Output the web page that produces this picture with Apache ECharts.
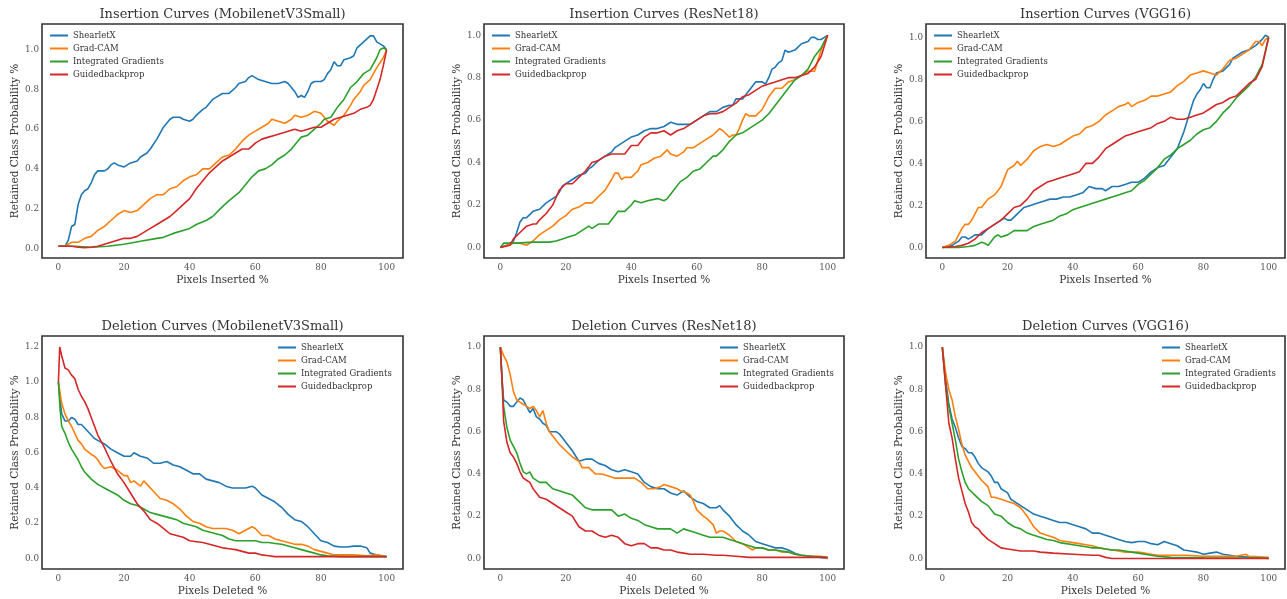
<!DOCTYPE html>
<html><head><meta charset="utf-8">
<script src="https://cdn.jsdelivr.net/npm/echarts@6/dist/echarts.min.js"></script>
<style>html,body{margin:0;padding:0;background:#fff}#c{width:1287px;height:599px}</style>
</head><body><div id="c"></div>
<script>
const methods = ['ShearletX', 'Grad-CAM', 'Integrated Gradients', 'Guidedbackprop'];
const colors = ['#1f77b4', '#ff7f0e', '#2ca02c', '#d62728'];
const titles = ['Insertion Curves (MobilenetV3Small)', 'Insertion Curves (ResNet18)', 'Insertion Curves (VGG16)',
  'Deletion Curves (MobilenetV3Small)', 'Deletion Curves (ResNet18)', 'Deletion Curves (VGG16)'];
const xNames = ['Pixels Inserted %', 'Pixels Inserted %', 'Pixels Inserted %', 'Pixels Deleted %', 'Pixels Deleted %', 'Pixels Deleted %'];
const yName = 'Retained Class Probability %';
const xTicks = [0, 20, 40, 60, 80, 100];
const yTicksInsMob = [0, 0.2, 0.4, 0.6, 0.8, 1.0];
const yTicksDelMob = [0, 0.2, 0.4, 0.6, 0.8, 1.0, 1.2];

// ---- Insertion, MobilenetV3Small ----
const insMobShearletX = [[0,0.01],[2,0.01],[3,0.04],[4,0.11],[5,0.12],[6,0.22],[7,0.27],[8,0.29],[9,0.30],[10,0.33],[11,0.37],[12,0.39],[14,0.39],[15,0.40],[16,0.42],[17,0.43],[18,0.42],[20,0.41],[22,0.43],[24,0.44],[25,0.46],[27,0.48],[28,0.50],[30,0.55],[32,0.61],[34,0.65],[35,0.66],[37,0.66],[38,0.65],[40,0.64],[41,0.65],[42,0.67],[44,0.70],[45,0.71],[47,0.75],[48,0.76],[50,0.78],[52,0.78],[54,0.81],[55,0.83],[57,0.84],[58,0.86],[59,0.87],[61,0.85],[63,0.84],[65,0.83],[67,0.83],[69,0.84],[70,0.83],[71,0.81],[72,0.79],[73,0.76],[74,0.77],[75,0.76],[76,0.79],[77,0.83],[78,0.84],[80,0.84],[81,0.85],[82,0.88],[83,0.90],[84,0.94],[85,0.92],[86,0.92],[87,0.95],[89,0.96],[90,0.97],[91,1.01],[93,1.04],[95,1.07],[96,1.07],[97,1.04],[98,1.03],[99,1.02],[100,1.00]];
const insMobGradCAM = [[0,0.01],[2,0.01],[3,0.02],[4,0.03],[6,0.03],[8,0.05],[10,0.06],[12,0.09],[14,0.11],[16,0.14],[18,0.17],[20,0.19],[22,0.18],[24,0.19],[26,0.22],[28,0.25],[30,0.27],[32,0.27],[34,0.30],[36,0.31],[38,0.34],[40,0.36],[42,0.37],[44,0.40],[46,0.40],[48,0.43],[50,0.46],[52,0.47],[54,0.50],[56,0.54],[58,0.57],[60,0.59],[62,0.61],[64,0.63],[65,0.65],[67,0.64],[69,0.63],[71,0.65],[72,0.67],[74,0.66],[76,0.67],[78,0.69],[80,0.68],[81,0.66],[82,0.64],[83,0.63],[84,0.62],[85,0.64],[87,0.67],[89,0.72],[90,0.75],[91,0.77],[92,0.79],[93,0.82],[95,0.85],[97,0.91],[99,0.96],[100,1.00]];
const insMobIG = [[0,0.01],[5,0.01],[10,0.005],[15,0.01],[20,0.02],[25,0.035],[30,0.05],[32,0.055],[35,0.075],[38,0.09],[40,0.10],[42,0.12],[45,0.14],[47,0.16],[50,0.21],[52,0.24],[55,0.28],[57,0.32],[59,0.36],[61,0.39],[63,0.40],[65,0.42],[67,0.45],[69,0.47],[71,0.50],[73,0.54],[74,0.56],[76,0.57],[78,0.60],[80,0.63],[81,0.65],[83,0.66],[85,0.71],[87,0.75],[89,0.81],[91,0.84],[93,0.88],[95,0.90],[97,0.96],[98,1.00],[99,1.01],[100,1.00]];
const insMobGBP = [[0,0.01],[4,0.01],[6,0.005],[8,0.003],[10,0.005],[12,0.01],[14,0.02],[16,0.03],[18,0.04],[20,0.05],[22,0.05],[24,0.06],[26,0.08],[28,0.10],[30,0.12],[32,0.14],[34,0.16],[36,0.19],[38,0.22],[40,0.25],[42,0.30],[44,0.34],[46,0.38],[48,0.41],[50,0.44],[52,0.46],[54,0.48],[56,0.50],[58,0.50],[60,0.53],[62,0.55],[64,0.56],[66,0.57],[68,0.58],[70,0.59],[72,0.60],[74,0.59],[76,0.60],[78,0.61],[80,0.61],[82,0.63],[84,0.65],[86,0.66],[88,0.67],[90,0.68],[92,0.70],[94,0.71],[95,0.72],[96,0.75],[97,0.80],[98,0.85],[99,0.92],[100,1.00]];

// ---- Insertion, ResNet18 ----
const insResShearletX = [[0,0.0],[2,0.01],[4,0.03],[5,0.07],[6,0.12],[7,0.14],[8,0.14],[10,0.17],[12,0.18],[14,0.21],[16,0.23],[17,0.24],[18,0.26],[19,0.29],[20,0.30],[22,0.32],[24,0.34],[26,0.35],[27,0.37],[28,0.38],[30,0.41],[32,0.43],[34,0.45],[35,0.47],[37,0.49],[39,0.51],[40,0.52],[42,0.53],[44,0.55],[46,0.56],[48,0.56],[50,0.57],[52,0.59],[54,0.58],[56,0.58],[58,0.58],[60,0.60],[62,0.62],[64,0.64],[66,0.64],[68,0.66],[70,0.67],[71,0.67],[72,0.70],[74,0.70],[75,0.72],[77,0.76],[78,0.78],[80,0.78],[81,0.77],[82,0.80],[83,0.84],[84,0.85],[85,0.87],[86,0.88],[87,0.93],[88,0.92],[90,0.93],[92,0.96],[94,0.97],[95,0.99],[96,0.99],[97,0.98],[98,0.98],[99,0.99],[100,1.00]];
const insResGradCAM = [[0,0.0],[2,0.01],[4,0.02],[6,0.02],[8,0.01],[10,0.03],[12,0.06],[14,0.08],[16,0.10],[18,0.13],[20,0.15],[22,0.18],[24,0.19],[26,0.21],[28,0.21],[30,0.24],[32,0.27],[34,0.32],[35,0.35],[36,0.35],[37,0.32],[38,0.33],[40,0.33],[42,0.36],[43,0.39],[45,0.40],[47,0.42],[49,0.43],[51,0.46],[52,0.44],[54,0.43],[56,0.45],[57,0.47],[59,0.47],[61,0.49],[63,0.51],[65,0.53],[67,0.56],[68,0.55],[70,0.52],[71,0.53],[72,0.53],[73,0.56],[74,0.60],[75,0.63],[76,0.62],[78,0.62],[80,0.65],[82,0.71],[84,0.75],[86,0.75],[88,0.78],[90,0.79],[92,0.81],[94,0.83],[96,0.83],[97,0.88],[98,0.93],[99,0.97],[100,1.00]];
const insResIG = [[0,0.0],[1,0.02],[5,0.02],[10,0.025],[12,0.025],[15,0.025],[17,0.03],[19,0.04],[21,0.05],[23,0.06],[25,0.08],[27,0.10],[28,0.09],[30,0.11],[33,0.11],[34,0.13],[36,0.17],[38,0.17],[40,0.20],[41,0.22],[43,0.21],[45,0.22],[48,0.23],[50,0.22],[51,0.23],[53,0.27],[55,0.31],[57,0.33],[59,0.36],[61,0.37],[63,0.40],[65,0.43],[66,0.43],[68,0.46],[70,0.50],[72,0.53],[74,0.54],[76,0.56],[78,0.58],[80,0.60],[82,0.63],[84,0.67],[86,0.71],[88,0.75],[90,0.79],[92,0.81],[94,0.84],[96,0.90],[98,0.94],[100,1.00]];
const insResGBP = [[0,0.0],[3,0.01],[4,0.04],[6,0.07],[8,0.10],[10,0.11],[11,0.11],[12,0.13],[14,0.16],[16,0.20],[18,0.27],[20,0.30],[22,0.30],[24,0.33],[26,0.36],[28,0.40],[30,0.41],[32,0.43],[34,0.44],[36,0.44],[38,0.44],[40,0.48],[42,0.48],[44,0.52],[46,0.54],[48,0.54],[50,0.55],[52,0.53],[54,0.55],[56,0.56],[58,0.58],[60,0.60],[62,0.62],[64,0.63],[66,0.63],[68,0.64],[70,0.66],[72,0.68],[74,0.71],[76,0.72],[78,0.74],[80,0.76],[82,0.77],[84,0.78],[86,0.79],[88,0.80],[90,0.80],[92,0.81],[94,0.82],[96,0.85],[98,0.90],[100,1.00]];

// ---- Insertion, VGG16 ----
const insVggShearletX = [[0,0.0],[3,0.01],[5,0.03],[6,0.05],[7,0.05],[8,0.04],[10,0.06],[12,0.06],[14,0.09],[16,0.11],[18,0.13],[19,0.14],[20,0.13],[21,0.13],[23,0.16],[25,0.19],[27,0.20],[29,0.21],[31,0.22],[33,0.23],[35,0.23],[37,0.24],[39,0.24],[41,0.25],[43,0.26],[45,0.29],[47,0.28],[49,0.28],[50,0.27],[52,0.29],[54,0.29],[56,0.30],[58,0.31],[60,0.31],[62,0.33],[64,0.36],[66,0.38],[68,0.39],[70,0.43],[72,0.47],[73,0.51],[74,0.55],[75,0.60],[76,0.65],[77,0.70],[78,0.73],[79,0.75],[80,0.78],[81,0.76],[82,0.76],[83,0.80],[84,0.83],[86,0.84],[88,0.87],[89,0.90],[90,0.91],[92,0.93],[94,0.94],[96,0.96],[98,0.99],[99,1.01],[100,1.00]];
const insVggGradCAM = [[0,0.0],[2,0.01],[4,0.03],[5,0.06],[6,0.09],[7,0.11],[8,0.11],[9,0.13],[10,0.16],[11,0.19],[12,0.19],[13,0.21],[14,0.23],[16,0.25],[18,0.29],[19,0.33],[20,0.37],[22,0.39],[23,0.41],[24,0.39],[26,0.42],[28,0.46],[30,0.48],[32,0.49],[34,0.48],[36,0.49],[38,0.51],[40,0.53],[42,0.54],[44,0.57],[46,0.58],[48,0.60],[50,0.63],[52,0.65],[54,0.67],[56,0.68],[57,0.69],[58,0.67],[60,0.69],[62,0.70],[64,0.72],[66,0.72],[68,0.73],[70,0.74],[72,0.77],[74,0.79],[76,0.82],[78,0.83],[80,0.84],[82,0.83],[84,0.82],[86,0.85],[88,0.89],[90,0.90],[92,0.92],[94,0.94],[96,0.98],[97,0.98],[98,0.96],[99,0.99],[100,1.00]];
const insVggIG = [[0,0.0],[5,0.0],[8,0.005],[10,0.01],[12,0.025],[13,0.02],[14,0.01],[15,0.03],[16,0.05],[17,0.06],[18,0.05],[20,0.06],[22,0.08],[24,0.08],[26,0.08],[28,0.10],[30,0.11],[32,0.12],[34,0.13],[36,0.15],[38,0.16],[40,0.18],[42,0.19],[44,0.20],[46,0.21],[48,0.22],[50,0.23],[52,0.24],[54,0.25],[56,0.26],[58,0.27],[60,0.30],[62,0.32],[64,0.35],[66,0.38],[68,0.42],[70,0.44],[72,0.47],[74,0.49],[76,0.51],[78,0.54],[80,0.56],[82,0.57],[84,0.60],[86,0.64],[88,0.67],[90,0.71],[92,0.74],[94,0.77],[96,0.81],[98,0.87],[100,1.00]];
const insVggGBP = [[0,0.0],[4,0.005],[6,0.01],[8,0.02],[10,0.04],[12,0.07],[14,0.09],[16,0.11],[18,0.13],[20,0.16],[22,0.19],[24,0.20],[26,0.23],[28,0.27],[30,0.29],[32,0.31],[34,0.32],[36,0.33],[38,0.34],[40,0.35],[42,0.36],[44,0.40],[46,0.40],[48,0.43],[50,0.47],[52,0.49],[54,0.51],[56,0.53],[58,0.54],[60,0.55],[62,0.56],[64,0.57],[66,0.59],[68,0.60],[70,0.62],[72,0.61],[74,0.61],[76,0.62],[78,0.63],[80,0.64],[82,0.66],[84,0.68],[86,0.69],[88,0.71],[90,0.72],[92,0.75],[94,0.78],[96,0.80],[98,0.86],[100,1.00]];

// ---- Deletion, MobilenetV3Small ----
const delMobShearletX = [[0,1.0],[0.5,0.9],[1,0.82],[2,0.78],[3,0.78],[4,0.80],[5,0.79],[6,0.76],[7,0.76],[8,0.74],[9,0.72],[10,0.70],[11,0.68],[12,0.67],[14,0.65],[16,0.62],[18,0.60],[20,0.58],[22,0.58],[23,0.60],[25,0.58],[27,0.57],[29,0.54],[31,0.54],[33,0.55],[35,0.53],[37,0.52],[39,0.50],[41,0.48],[43,0.48],[45,0.45],[47,0.44],[49,0.43],[51,0.41],[53,0.40],[55,0.40],[57,0.40],[59,0.41],[60,0.40],[62,0.36],[64,0.34],[66,0.32],[68,0.29],[70,0.25],[72,0.22],[74,0.21],[76,0.18],[78,0.14],[80,0.10],[82,0.09],[84,0.07],[86,0.065],[88,0.065],[90,0.07],[92,0.07],[94,0.06],[95,0.03],[97,0.02],[100,0.01]];
const delMobGradCAM = [[0,1.0],[1,0.88],[2,0.82],[3,0.78],[4,0.75],[5,0.71],[6,0.67],[7,0.65],[8,0.62],[10,0.59],[11,0.58],[12,0.56],[13,0.53],[14,0.51],[16,0.52],[18,0.50],[20,0.47],[21,0.47],[22,0.43],[23,0.44],[25,0.41],[26,0.44],[27,0.42],[29,0.38],[31,0.34],[33,0.33],[35,0.31],[37,0.28],[39,0.24],[41,0.21],[43,0.20],[45,0.18],[47,0.17],[49,0.17],[51,0.17],[53,0.16],[55,0.14],[57,0.16],[59,0.18],[60,0.17],[62,0.13],[64,0.13],[66,0.11],[68,0.10],[70,0.09],[72,0.08],[74,0.08],[76,0.07],[78,0.05],[80,0.04],[82,0.03],[84,0.02],[86,0.02],[90,0.02],[94,0.015],[97,0.02],[100,0.01]];
const delMobIG = [[0,1.0],[0.5,0.85],[1,0.75],[2,0.71],[3,0.66],[4,0.62],[5,0.59],[6,0.56],[7,0.52],[8,0.49],[9,0.47],[10,0.45],[12,0.42],[14,0.40],[16,0.38],[18,0.36],[20,0.33],[22,0.31],[24,0.30],[26,0.28],[28,0.26],[30,0.25],[32,0.24],[34,0.23],[36,0.22],[38,0.20],[40,0.19],[42,0.18],[44,0.16],[46,0.15],[48,0.14],[50,0.13],[52,0.11],[54,0.10],[56,0.10],[58,0.10],[60,0.10],[62,0.09],[64,0.09],[66,0.085],[68,0.08],[70,0.07],[72,0.06],[74,0.05],[76,0.04],[78,0.03],[80,0.02],[82,0.015],[86,0.01],[90,0.01],[100,0.01]];
const delMobGBP = [[0,1.0],[0.4,1.2],[1,1.15],[2,1.08],[3,1.07],[4,1.04],[5,1.02],[6,0.96],[7,0.92],[8,0.89],[9,0.85],[10,0.80],[11,0.75],[12,0.70],[14,0.63],[16,0.55],[18,0.48],[20,0.43],[22,0.37],[24,0.31],[26,0.27],[28,0.22],[30,0.20],[32,0.17],[34,0.14],[36,0.13],[38,0.12],[40,0.10],[42,0.095],[44,0.09],[46,0.08],[48,0.07],[50,0.06],[52,0.055],[54,0.05],[56,0.04],[58,0.03],[60,0.03],[62,0.02],[64,0.015],[66,0.01],[70,0.01],[80,0.01],[100,0.01]];

// ---- Deletion, ResNet18 ----
const delResShearletX = [[0,1.0],[0.5,0.85],[1,0.75],[2,0.74],[3,0.72],[4,0.72],[5,0.74],[6,0.76],[7,0.75],[8,0.72],[9,0.69],[10,0.71],[11,0.67],[12,0.66],[13,0.64],[14,0.63],[15,0.60],[16,0.60],[17,0.60],[18,0.59],[19,0.57],[20,0.55],[22,0.51],[24,0.46],[26,0.47],[28,0.47],[30,0.45],[32,0.44],[34,0.42],[36,0.41],[38,0.42],[40,0.41],[42,0.40],[44,0.36],[46,0.34],[48,0.33],[50,0.33],[52,0.31],[54,0.30],[56,0.32],[58,0.29],[60,0.27],[62,0.26],[64,0.24],[66,0.24],[67,0.25],[68,0.23],[70,0.20],[72,0.16],[74,0.13],[76,0.11],[78,0.08],[80,0.07],[82,0.06],[84,0.05],[86,0.05],[88,0.04],[90,0.025],[92,0.015],[95,0.01],[100,0.0]];
const delResGradCAM = [[0,1.0],[1,0.96],[2,0.93],[3,0.87],[4,0.79],[5,0.75],[6,0.74],[7,0.73],[8,0.72],[9,0.71],[10,0.72],[11,0.70],[12,0.67],[13,0.70],[14,0.64],[15,0.60],[16,0.58],[18,0.54],[20,0.51],[22,0.48],[24,0.46],[25,0.43],[27,0.43],[29,0.40],[31,0.40],[33,0.39],[35,0.38],[37,0.38],[39,0.38],[41,0.38],[43,0.36],[45,0.33],[47,0.33],[49,0.34],[50,0.35],[52,0.34],[54,0.33],[55,0.32],[57,0.31],[58,0.30],[59,0.27],[60,0.23],[62,0.20],[63,0.19],[65,0.16],[66,0.12],[67,0.13],[68,0.13],[70,0.11],[72,0.08],[74,0.07],[76,0.05],[77,0.04],[78,0.05],[80,0.05],[82,0.04],[84,0.04],[86,0.03],[88,0.03],[90,0.02],[92,0.015],[95,0.01],[98,0.01],[100,0.0]];
const delResIG = [[0,1.0],[0.5,0.85],[1,0.72],[2,0.62],[3,0.56],[4,0.53],[5,0.50],[6,0.45],[7,0.41],[8,0.40],[9,0.41],[10,0.38],[12,0.36],[14,0.36],[16,0.33],[18,0.32],[20,0.31],[22,0.30],[24,0.27],[26,0.24],[28,0.23],[30,0.23],[32,0.23],[34,0.23],[36,0.20],[38,0.21],[40,0.19],[42,0.18],[44,0.16],[46,0.15],[48,0.14],[50,0.14],[52,0.14],[54,0.12],[56,0.14],[58,0.13],[60,0.12],[62,0.11],[64,0.10],[66,0.10],[68,0.10],[70,0.09],[72,0.08],[74,0.07],[76,0.06],[78,0.05],[80,0.05],[82,0.04],[84,0.04],[86,0.035],[88,0.03],[90,0.02],[92,0.015],[95,0.01],[100,0.005]];
const delResGBP = [[0,1.0],[0.5,0.85],[1,0.65],[2,0.55],[3,0.50],[4,0.48],[5,0.45],[6,0.41],[7,0.38],[8,0.37],[9,0.36],[10,0.33],[11,0.31],[12,0.29],[14,0.28],[16,0.26],[18,0.24],[20,0.22],[22,0.20],[24,0.15],[26,0.13],[28,0.13],[30,0.11],[32,0.10],[34,0.11],[36,0.10],[38,0.07],[40,0.06],[42,0.07],[44,0.07],[46,0.05],[48,0.05],[50,0.04],[52,0.04],[54,0.03],[56,0.025],[58,0.02],[62,0.02],[66,0.015],[68,0.015],[72,0.01],[76,0.005],[80,0.005],[90,0.005],[100,0.005]];

// ---- Deletion, VGG16 ----
const delVggShearletX = [[0,1.0],[1,0.85],[2,0.73],[3,0.66],[4,0.62],[5,0.57],[6,0.53],[7,0.52],[8,0.50],[9,0.50],[10,0.48],[11,0.45],[12,0.43],[14,0.41],[15,0.39],[16,0.36],[17,0.36],[18,0.33],[20,0.31],[21,0.28],[22,0.27],[24,0.25],[26,0.23],[28,0.21],[30,0.20],[32,0.19],[34,0.18],[36,0.17],[38,0.17],[40,0.16],[42,0.15],[44,0.14],[46,0.12],[48,0.12],[50,0.11],[52,0.10],[54,0.09],[56,0.08],[58,0.075],[60,0.08],[62,0.08],[64,0.07],[66,0.065],[68,0.08],[70,0.07],[72,0.06],[74,0.04],[76,0.035],[78,0.03],[80,0.02],[82,0.025],[84,0.03],[86,0.02],[88,0.015],[90,0.01],[95,0.005],[100,0.0]];
const delVggGradCAM = [[0,1.0],[1,0.88],[2,0.80],[3,0.75],[4,0.67],[5,0.61],[6,0.54],[7,0.49],[8,0.46],[9,0.43],[10,0.41],[12,0.37],[14,0.34],[15,0.29],[16,0.29],[18,0.28],[20,0.27],[22,0.26],[24,0.24],[26,0.20],[28,0.15],[30,0.12],[32,0.11],[34,0.10],[36,0.085],[38,0.08],[40,0.075],[42,0.07],[44,0.065],[46,0.06],[48,0.05],[50,0.045],[52,0.04],[54,0.035],[56,0.03],[58,0.03],[60,0.03],[62,0.025],[64,0.02],[66,0.015],[70,0.015],[75,0.015],[80,0.01],[85,0.01],[90,0.01],[93,0.02],[94,0.01],[100,0.005]];
const delVggIG = [[0,1.0],[1,0.82],[2,0.72],[3,0.64],[4,0.56],[5,0.47],[6,0.41],[7,0.36],[8,0.33],[10,0.30],[12,0.27],[14,0.25],[16,0.21],[18,0.20],[20,0.17],[22,0.15],[24,0.14],[26,0.12],[28,0.11],[30,0.10],[32,0.09],[34,0.085],[36,0.075],[38,0.07],[40,0.065],[42,0.06],[44,0.055],[46,0.05],[48,0.05],[50,0.045],[52,0.04],[54,0.04],[56,0.035],[58,0.03],[60,0.025],[62,0.02],[64,0.015],[66,0.01],[70,0.005],[80,0.003],[100,0.002]];
const delVggGBP = [[0,1.0],[1,0.82],[2,0.64],[3,0.57],[4,0.47],[5,0.38],[6,0.32],[7,0.26],[8,0.22],[9,0.17],[10,0.15],[11,0.14],[12,0.12],[14,0.09],[16,0.07],[17,0.06],[18,0.05],[20,0.045],[22,0.04],[24,0.035],[26,0.035],[28,0.035],[30,0.03],[34,0.025],[40,0.02],[46,0.015],[48,0.015],[50,0.005],[52,0.0],[100,0.0]];

const panelData = [
  [insMobShearletX, insMobGradCAM, insMobIG, insMobGBP],
  [insResShearletX, insResGradCAM, insResIG, insResGBP],
  [insVggShearletX, insVggGradCAM, insVggIG, insVggGBP],
  [delMobShearletX, delMobGradCAM, delMobIG, delMobGBP],
  [delResShearletX, delResGradCAM, delResIG, delResGBP],
  [delVggShearletX, delVggGradCAM, delVggIG, delVggGBP]
];
const yRanges = [[-0.049, 1.13], [-0.05, 1.053], [-0.05, 1.063], [-0.06, 1.262], [-0.05, 1.053], [-0.05, 1.053]];
const yTickSets = [yTicksInsMob, yTicksInsMob, yTicksInsMob, yTicksDelMob, yTicksInsMob, yTicksInsMob];

// layout (pixels)
const gridBoxes = [
  [42, 24, 361, 234], [484, 24, 360, 234], [926, 24, 359, 234],
  [42, 336, 361, 233], [484, 336, 360, 233], [926, 336, 359, 233]
];
const legendPos = [[50, 29], [492, 29], [934, 29], [278, 341], [720, 341], [1162, 341]];

const FONT = 'DejaVu Serif';
const grid = [], xAxis = [], yAxis = [], series = [], title = [], legend = [];
gridBoxes.forEach((b, i) => {
  grid.push({ left: b[0], top: b[1], width: b[2], height: b[3], show: true, borderColor: '#333', borderWidth: 1.6, backgroundColor: '#fff' });
  title.push({ text: titles[i], left: b[0] + b[2] / 2, top: b[1] - 16, textAlign: 'center', padding: 0,
    textStyle: { fontFamily: FONT, fontSize: 13, fontWeight: 'normal', color: '#333' } });
  xAxis.push({ type: 'value', gridIndex: i, min: -5, max: 105,
    name: xNames[i], nameLocation: 'middle', nameGap: 17,
    nameTextStyle: { fontFamily: FONT, fontSize: 10.5, color: '#333' },
    axisLine: { show: false }, axisTick: { show: false }, splitLine: { show: false },
    axisLabel: { customValues: xTicks, margin: 5, fontFamily: FONT, fontSize: 8.8, color: '#555' } });
  yAxis.push({ type: 'value', gridIndex: i, min: yRanges[i][0], max: yRanges[i][1],
    name: yName, nameLocation: 'middle', nameGap: 21,
    nameTextStyle: { fontFamily: FONT, fontSize: 10.5, color: '#333' },
    axisLine: { show: false }, axisTick: { show: false }, splitLine: { show: false },
    axisLabel: { customValues: yTickSets[i], margin: 3, fontFamily: FONT, fontSize: 8.8, color: '#555',
      formatter: v => v.toFixed(1) } });
  methods.forEach((m, k) => {
    series.push({ type: 'line', name: m, xAxisIndex: i, yAxisIndex: i, data: panelData[i][k],
      symbol: 'none', smooth: false, color: colors[k],
      lineStyle: { width: 1.6, color: colors[k] }, animation: false, z: 2 + k });
  });
  legend.push({ data: methods, orient: 'vertical', left: legendPos[i][0], top: legendPos[i][1], padding: 0,
    icon: 'rect', itemWidth: 18, itemHeight: 2, itemGap: 0,
    textStyle: { fontFamily: FONT, fontSize: 8.5, color: '#333', lineHeight: 13 } });
});

const chart = echarts.init(document.getElementById('c'), null, { renderer: 'canvas' });
chart.setOption({ animation: false, backgroundColor: '#fff', color: colors, title, legend, grid, xAxis, yAxis, series });
</script></body></html>
